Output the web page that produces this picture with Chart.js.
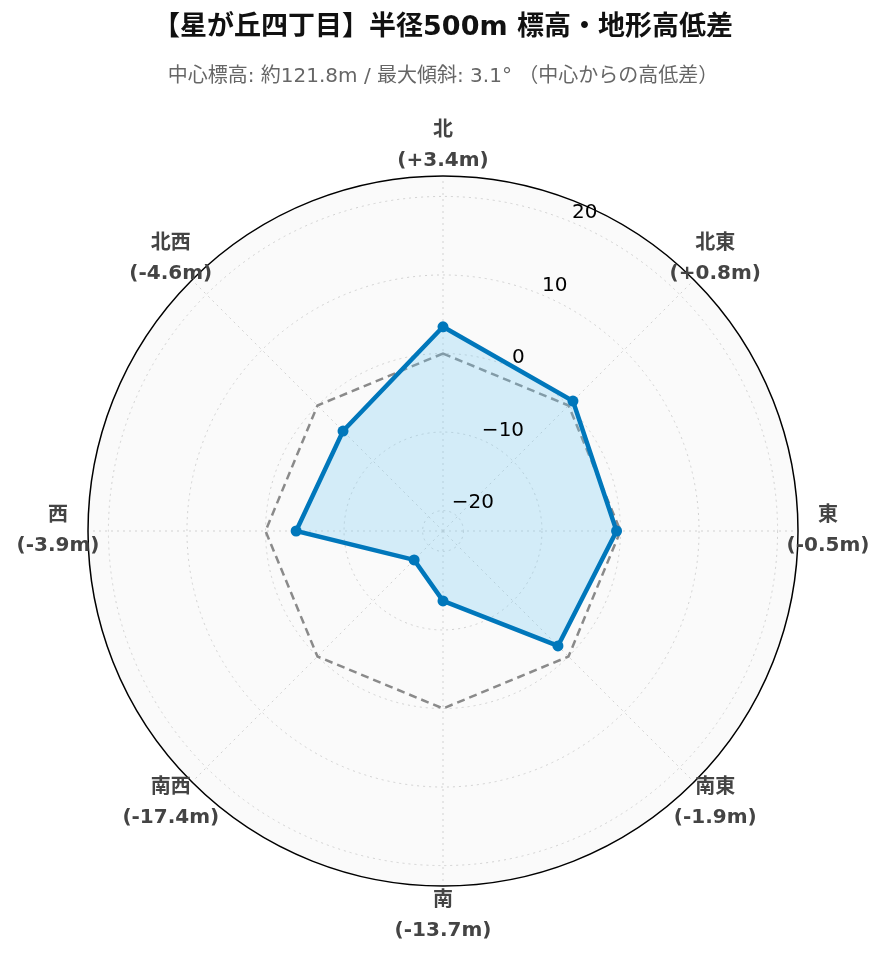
<!DOCTYPE html>
<html lang="ja">
<head>
<meta charset="utf-8">
<title>星が丘四丁目 標高・地形高低差</title>
<script src="https://cdn.jsdelivr.net/npm/chart.js@4"></script>
<style>
  html, body { margin: 0; padding: 0; background: #fff; }
  canvas { display: block; }
</style>
</head>
<body>
<canvas id="graficoRadar" width="885" height="962"></canvas>
<script>
const direcciones = ["北", "北東", "東", "南東", "南", "南西", "西", "北西"];
const desnivel = [3.4, 0.8, -0.5, -1.9, -13.7, -17.4, -3.9, -4.6];
const referencia = [0, 0, 0, 0, 0, 0, 0, 0];
const marcas = [-20, -10, 0, 10, 20];
const rMin = -22.6;
const rMax = 22.6;

const fuente = "'DejaVu Sans', 'Noto Sans CJK JP', sans-serif";

function etiquetaDesnivel(v) {
  return "(" + (v > 0 ? "+" : "") + v.toFixed(1) + "m)";
}

// fondo del círculo, borde exterior, etiquetas de ejes y de direcciones
const decoradoPolar = {
  id: "decoradoPolar",
  beforeDraw(chart) {
    const s = chart.scales.r;
    const ctx = chart.ctx;
    ctx.save();
    ctx.beginPath();
    ctx.arc(s.xCenter, s.yCenter, s.drawingArea, 0, Math.PI * 2);
    ctx.fillStyle = "#fafafa";
    ctx.fill();
    ctx.restore();
  },
  afterDatasetsDraw(chart) {
    const s = chart.scales.r;
    const ctx = chart.ctx;
    ctx.save();
    ctx.beginPath();
    ctx.arc(s.xCenter, s.yCenter, s.drawingArea, 0, Math.PI * 2);
    ctx.strokeStyle = "#000";
    ctx.lineWidth = 1.5;
    ctx.stroke();

    ctx.font = "20px " + fuente;
    ctx.fillStyle = "#000";
    ctx.textAlign = "left";
    ctx.textBaseline = "middle";
    marcas.forEach((v) => {
      const p = s.getPointPosition(0.5, s.getDistanceFromCenterForValue(v));
      const txt = v < 0 ? "\u2212" + Math.abs(v) : String(v);
      ctx.fillText(txt, p.x + 1, p.y - 9);
    });

    ctx.font = "bold 20px " + fuente;
    ctx.fillStyle = "#444";
    ctx.textAlign = "center";
    direcciones.forEach((d, i) => {
      const p = s.getPointPosition(i, s.drawingArea + 30);
      ctx.fillText(d, p.x, p.y - 15);
      ctx.fillText(etiquetaDesnivel(desnivel[i]), p.x, p.y + 15);
    });
    ctx.restore();
  },
};

const ctxRadar = document.getElementById("graficoRadar");

new Chart(ctxRadar, {
  type: "radar",
  data: {
    labels: direcciones,
    datasets: [
      {
        label: "高低差",
        data: desnivel,
        borderColor: "#0077bb",
        backgroundColor: "rgba(110, 200, 245, 0.28)",
        borderWidth: 4.5,
        pointRadius: 5.5,
        pointBackgroundColor: "#0077bb",
        pointBorderColor: "#0077bb",
        pointBorderWidth: 0,
        fill: "start",
        tension: 0,
      },
      {
        label: "中心標高",
        data: referencia,
        borderColor: "#8a8a8a",
        borderWidth: 2.5,
        borderDash: [8, 5],
        pointRadius: 0,
        fill: false,
        tension: 0,
      },
    ],
  },
  options: {
    responsive: false,
    animation: false,
    layout: {
      padding: { left: 1, right: 0, top: 0, bottom: 75 },
    },
    scales: {
      r: {
        min: rMin,
        max: rMax,
        afterBuildTicks(scale) {
          scale.ticks = marcas.map((v) => ({ value: v }));
        },
        ticks: { display: false },
        pointLabels: { display: false },
        grid: {
          circular: true,
          color: "#d2d2d2",
          lineWidth: 1,
        },
        border: { dash: [2, 4] },
        angleLines: {
          color: "#d2d2d2",
          lineWidth: 1,
          borderDash: [2, 4],
        },
      },
    },
    plugins: {
      legend: { display: false },
      tooltip: { enabled: false },
      title: {
        display: true,
        text: "【星が丘四丁目】半径500m 標高・地形高低差",
        color: "#111",
        font: { family: fuente, size: 27, weight: "bold", lineHeight: 1.2 },
        padding: { top: 11.8, bottom: 0 },
      },
      subtitle: {
        display: true,
        text: "中心標高: 約121.8m / 最大傾斜: 3.1° （中心からの高低差）",
        color: "#666",
        font: { family: fuente, size: 20, weight: "normal", lineHeight: 1.2 },
        padding: { top: 21, bottom: 86 },
      },
    },
  },
  plugins: [decoradoPolar],
});
</script>
</body>
</html>
